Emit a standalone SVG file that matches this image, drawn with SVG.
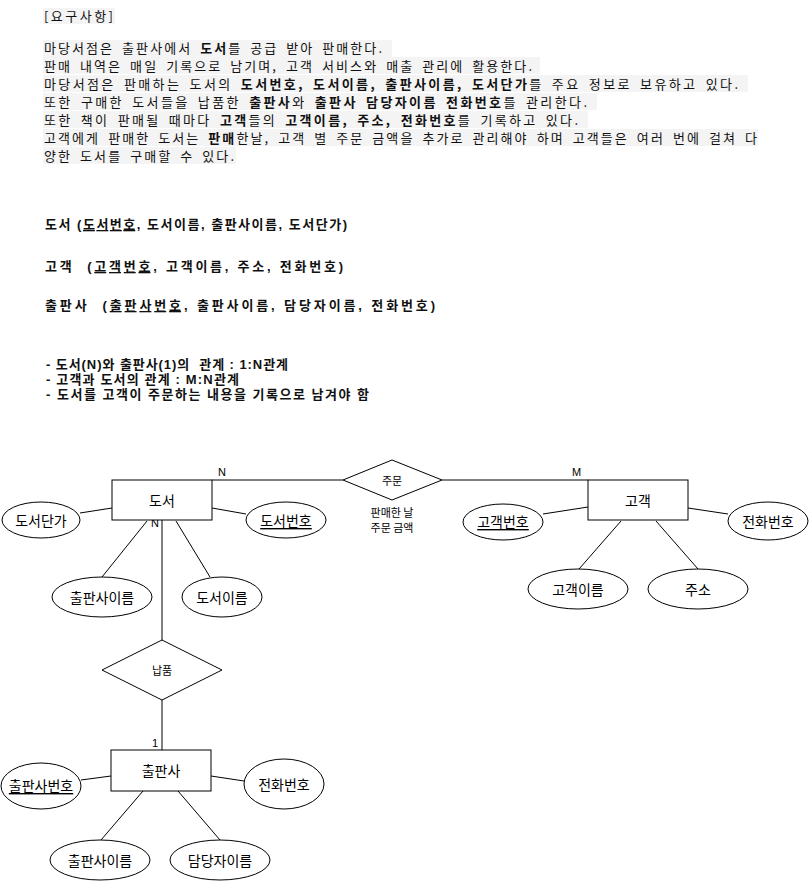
<svg xmlns="http://www.w3.org/2000/svg" width="809" height="881" viewBox="0 0 809 881">
<style>
.t{font-family:"Noto Sans CJK KR","Noto Sans",sans-serif;font-size:13px;fill:#111;word-spacing:3px}
.b{font-weight:bold}
.s2{font-family:"Liberation Sans","Noto Sans CJK KR",sans-serif;font-size:13px;font-weight:bold;fill:#111}
.bg{fill:#f4f4f4}
.box{fill:#fff;stroke:#000;stroke-width:1}
.lbl{font-family:"Noto Sans CJK KR","Noto Sans",sans-serif;font-size:14px;fill:#000;text-anchor:middle;dominant-baseline:central}
.sm{font-family:"Noto Sans CJK KR","Noto Sans",sans-serif;font-size:11px;fill:#000;text-anchor:middle;dominant-baseline:central}
.card{font-family:"Liberation Sans",sans-serif;font-size:11px;fill:#000}
.u{text-decoration:underline}
.ln{stroke:#000;stroke-width:1;fill:none}
</style>
<rect width="809" height="881" fill="#fff"/>
<g id="requirements">
<rect class="bg" x="43" y="8" width="72" height="16"/>
<text class="t" x="44" y="21" textLength="69" lengthAdjust="spacing">[요구사항]</text>
<rect class="bg" x="43" y="40" width="349" height="17"/>
<rect class="bg" x="43" y="57" width="497" height="17"/>
<rect class="bg" x="43" y="75" width="705" height="17"/>
<rect class="bg" x="43" y="93" width="554" height="17"/>
<rect class="bg" x="43" y="111" width="545" height="17"/>
<rect class="bg" x="43" y="129" width="715" height="17"/>
<rect class="bg" x="43" y="147" width="193" height="17"/>
<text class="t" x="44" y="53" textLength="338" lengthAdjust="spacing">마당서점은 출판사에서 <tspan class="b">도서</tspan>를 공급 받아 판매한다.</text>
<text class="t" x="44" y="71" textLength="488" lengthAdjust="spacing">판매 내역은 매일 기록으로 남기며, 고객 서비스와 매출 관리에 활용한다.</text>
<text class="t" x="44" y="89" textLength="694" lengthAdjust="spacing">마당서점은 판매하는 도서의 <tspan class="b">도서번호, 도서이름, 출판사이름, 도서단가</tspan>를 주요 정보로 보유하고 있다.</text>
<text class="t" x="44" y="107" textLength="543" lengthAdjust="spacing">또한 구매한 도서들을 납품한 <tspan class="b">출판사</tspan>와 <tspan class="b">출판사 담당자이름 전화번호</tspan>를 관리한다.</text>
<text class="t" x="44" y="125" textLength="534" lengthAdjust="spacing">또한 책이 판매될 때마다 <tspan class="b">고객</tspan>들의 <tspan class="b">고객이름, 주소, 전화번호</tspan>를 기록하고 있다.</text>
<text class="t" x="44" y="143" textLength="713" lengthAdjust="spacing">고객에게 판매한 도서는 <tspan class="b">판매</tspan>한날, 고객 별 주문 금액을 추가로 관리해야 하며 고객들은 여러 번에 걸쳐 다</text>
<text class="t" x="44" y="161" textLength="190" lengthAdjust="spacing">양한 도서를 구매할 수 있다.</text>
</g>
<g id="relations">
<text class="s2" x="45" y="229" textLength="302" lengthAdjust="spacing" xml:space="preserve">도서 (<tspan class="u">도서번호</tspan>, 도서이름, 출판사이름, 도서단가)</text>
<text class="s2" x="45" y="271" textLength="298" lengthAdjust="spacing" xml:space="preserve">고객  (<tspan class="u">고객번호</tspan>, 고객이름, 주소, 전화번호)</text>
<text class="s2" x="45" y="310" textLength="390" lengthAdjust="spacing" xml:space="preserve">출판사  (<tspan class="u">출판사번호</tspan>, 출판사이름, 담당자이름, 전화번호)</text>
<text class="s2" x="46" y="369" textLength="242" lengthAdjust="spacing" xml:space="preserve">- 도서(N)와 출판사(1)의  관계 : 1:N관계</text>
<text class="s2" x="46" y="384" textLength="193" lengthAdjust="spacing">- 고객과 도서의 관계 : M:N관계</text>
<text class="s2" x="46" y="399" textLength="323" lengthAdjust="spacing">- 도서를 고객이 주문하는 내용을 기록으로 남겨야 함</text>
</g>
<g id="connectors">
<line class="ln" x1="212" y1="480" x2="343" y2="480"/>
<line class="ln" x1="442" y1="480" x2="588" y2="480"/>
<line class="ln" x1="80" y1="513" x2="112" y2="508"/>
<line class="ln" x1="212" y1="508" x2="246" y2="514"/>
<line class="ln" x1="147" y1="521" x2="102" y2="577"/>
<line class="ln" x1="176" y1="521" x2="210" y2="577" stroke-width="2"/>
<line class="ln" x1="162" y1="520" x2="162" y2="640"/>
<line class="ln" x1="162" y1="700" x2="162" y2="750"/>
<line class="ln" x1="543" y1="514" x2="588" y2="507"/>
<line class="ln" x1="688" y1="508" x2="728" y2="514"/>
<line class="ln" x1="621" y1="521" x2="579" y2="569"/>
<line class="ln" x1="656" y1="521" x2="698" y2="569"/>
<line class="ln" x1="81" y1="780" x2="111" y2="776"/>
<line class="ln" x1="211" y1="776" x2="244" y2="781"/>
<line class="ln" x1="143" y1="791" x2="101" y2="840"/>
<line class="ln" x1="178" y1="791" x2="220" y2="840"/>
<text class="card" x="218" y="476">N</text>
<text class="card" x="572" y="476">M</text>
<text class="card" x="151" y="527">N</text>
<text class="card" x="152" y="747">1</text>
</g>
<g id="book">
<rect class="box" x="112" y="480" width="100" height="40"/>
<text class="lbl" x="162" y="500">도서</text>
</g>
<g id="order">
<polygon class="box" points="343,480 392,460 442,480 392,500"/>
<text class="sm" x="392" y="480">주문</text>
<text class="sm" x="392" y="512">판매한 날</text>
<text class="sm" x="392" y="527">주문 금액</text>
</g>
<g id="customer">
<rect class="box" x="588" y="480" width="100" height="40"/>
<text class="lbl" x="638" y="500">고객</text>
</g>
<g id="book-price">
<ellipse class="box" cx="41" cy="520" rx="39" ry="18"/>
<text class="lbl" x="41" y="520">도서단가</text>
</g>
<g id="book-no">
<ellipse class="box" cx="286" cy="520" rx="40" ry="18"/>
<text class="lbl u" x="286" y="520">도서번호</text>
</g>
<g id="book-publisher-name">
<ellipse class="box" cx="102" cy="597" rx="50" ry="20"/>
<text class="lbl" x="102" y="597">출판사이름</text>
</g>
<g id="book-name">
<ellipse class="box" cx="222" cy="597" rx="40" ry="20"/>
<text class="lbl" x="222" y="597">도서이름</text>
</g>
<g id="customer-no">
<ellipse class="box" cx="503" cy="522" rx="40" ry="18"/>
<text class="lbl u" x="503" y="521">고객번호</text>
</g>
<g id="customer-phone">
<ellipse class="box" cx="768" cy="521" rx="40" ry="19"/>
<text class="lbl" x="768" y="521">전화번호</text>
</g>
<g id="customer-name">
<ellipse class="box" cx="578" cy="589" rx="50" ry="20"/>
<text class="lbl" x="578" y="589">고객이름</text>
</g>
<g id="customer-address">
<ellipse class="box" cx="698" cy="589" rx="50" ry="20"/>
<text class="lbl" x="698" y="589">주소</text>
</g>
<g id="supply">
<polygon class="box" points="102,670 162,640 222,670 162,700"/>
<text class="sm" x="162" y="670">납품</text>
</g>
<g id="publisher">
<rect class="box" x="111" y="750" width="100" height="41"/>
<text class="lbl" x="161" y="770">출판사</text>
</g>
<g id="publisher-no">
<ellipse class="box" cx="41" cy="786" rx="40" ry="23"/>
<text class="lbl u" x="41" y="785">출판사번호</text>
</g>
<g id="publisher-phone">
<ellipse class="box" cx="284" cy="784" rx="40" ry="25"/>
<text class="lbl" x="284" y="784">전화번호</text>
</g>
<g id="publisher-name">
<ellipse class="box" cx="100" cy="860" rx="50" ry="20"/>
<text class="lbl" x="100" y="860">출판사이름</text>
</g>
<g id="manager-name">
<ellipse class="box" cx="220" cy="860" rx="50" ry="20"/>
<text class="lbl" x="220" y="860">담당자이름</text>
</g>
</svg>
